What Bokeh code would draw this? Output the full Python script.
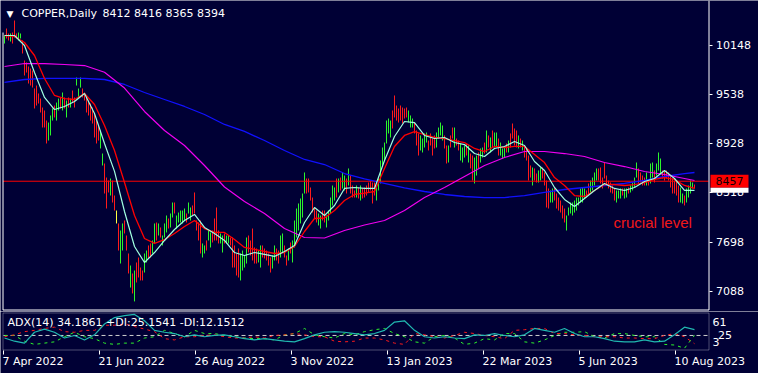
from bokeh.plotting import figure
from bokeh.layouts import column
from bokeh.models import (Range1d, LinearAxis, FixedTicker, Label,
                          ColumnDataSource, BoxAnnotation)
from bokeh.embed import file_html
from bokeh.resources import INLINE

# ---------------- data ----------------
SYMBOL = "COPPER,Daily"
LAST_OHLC = "8412 8416 8365 8394"
ADX_TITLE = "ADX(14) 34.1861 +DI:25.1541 -DI:12.1512"

high = [
    10272, 10359, 10297, 10297, 10309, 10459, 10297, 10309, 10297, 10210,
    9961, 9936, 9886, 9861, 9836, 9612, 9649, 9550, 9487, 9375,
    9338, 9213, 9188, 9276, 9363, 9400, 9437, 9487, 9500, 9562,
    9500, 9462, 9500, 9487, 9587, 9500, 9749, 9612, 9749, 9612,
    9562, 9500, 9462, 9425, 9375, 9301, 9213, 9151, 9089, 8802,
    8678, 8503, 8466, 8491, 8466, 8279, 8092, 7931, 7843, 7931,
    7968, 7781, 7557, 7407, 7308, 7345, 7445, 7507, 7382, 7345,
    7557, 7594, 7657, 7682, 7719, 7931, 7943, 7931, 7881, 7781,
    7931, 8030, 7993, 8055, 8192, 8192, 8030, 8067, 8092, 8092,
    8117, 8055, 8192, 8130, 8155, 8317, 7968, 7943, 7968, 7682,
    7657, 7719, 7843, 7819, 7843, 7993, 8130, 7843, 7806, 7781,
    7806, 7781, 7781, 7756, 7756, 7657, 7557, 7619, 7557, 7594,
    7532, 7756, 7781, 7719, 7868, 7632, 7619, 7594, 7657, 7657,
    7619, 7594, 7557, 7507, 7532, 7657, 7619, 7594, 7781, 7806,
    7657, 7532, 7619, 7694, 7719, 7968, 8117, 8180, 8242, 8304,
    8566, 8491, 8491, 8379, 8254, 8130, 8092, 8055, 8030, 8092,
    8092, 8030, 8092, 8254, 8404, 8379, 8491, 8491, 8503, 8566,
    8528, 8491, 8616, 8528, 8404, 8342, 8404, 8379, 8404, 8367,
    8379, 8404, 8441, 8466, 8441, 8441, 8379, 8491, 8715, 8877,
    8939, 9213, 9238, 9213, 9338, 9525, 9400, 9363, 9400, 9375,
    9363, 9375, 9338, 9276, 9238, 9188, 9089, 9052, 9027, 8989,
    9052, 9064, 8964, 9052, 8989, 9027, 9064, 9126, 9188, 9151,
    9027, 8902, 8902, 9027, 9126, 9126, 8989, 8964, 8927, 8877,
    8902, 8927, 8902, 8802, 8777, 8752, 8777, 8815, 8865, 8877,
    8939, 9089, 9027, 9002, 9089, 9064, 9064, 8989, 8939, 8865,
    8877, 8927, 8964, 9052, 9176, 9114, 9089, 9027, 8989, 8964,
    8902, 8865, 8777, 8653, 8628, 8616, 8553, 8591, 8628, 8628,
    8566, 8466, 8367, 8342, 8367, 8367, 8304, 8254, 8217, 8155,
    8117, 8030, 8130, 8192, 8192, 8217, 8254, 8254, 8367, 8379,
    8367, 8342, 8429, 8466, 8503, 8566, 8616, 8616, 8628, 8503,
    8690, 8528, 8466, 8441, 8404, 8367, 8342, 8342, 8367, 8367,
    8367, 8367, 8379, 8404, 8441, 8503, 8690, 8616, 8566, 8528,
    8503, 8566, 8466, 8678, 8690, 8591, 8678, 8815, 8740, 8591,
    8591, 8591, 8566, 8528, 8491, 8466, 8466, 8404, 8379, 8304,
    8279, 8367, 8404, 8466, 8441, 8416,
]
low = [
    10172, 10235, 10210, 10197, 10172, 10247, 10235, 10210, 10235, 10048,
    9774, 9811, 9674, 9649, 9624, 9363, 9400, 9425, 9313, 9126,
    9126, 8927, 8964, 9027, 9213, 9251, 9213, 9338, 9363, 9338,
    9363, 9251, 9375, 9375, 9437, 9375, 9649, 9500, 9624, 9500,
    9462, 9313, 9276, 9213, 9176, 9002, 8927, 8964, 8865, 8653,
    8304, 8117, 8317, 8279, 8192, 8092, 7931, 7594, 7432, 7594,
    7806, 7594, 7308, 7133, 7059, 6960, 7196, 7258, 7221, 7221,
    7320, 7445, 7495, 7507, 7557, 7682, 7719, 7781, 7756, 7657,
    7756, 7819, 7868, 7881, 8005, 8055, 7868, 7943, 7943, 7931,
    7968, 7943, 8055, 7968, 8030, 8055, 7843, 7719, 7557, 7507,
    7557, 7594, 7719, 7632, 7694, 7719, 7719, 7682, 7682, 7569,
    7682, 7682, 7682, 7657, 7382, 7382, 7283, 7258, 7221, 7345,
    7382, 7432, 7569, 7532, 7470, 7432, 7432, 7445, 7382, 7507,
    7495, 7470, 7407, 7320, 7370, 7470, 7470, 7432, 7507, 7569,
    7507, 7407, 7470, 7557, 7445, 7632, 7756, 7843, 7931, 8005,
    8304, 8304, 8317, 8217, 8067, 7993, 7943, 7906, 7868, 7968,
    7943, 7881, 7968, 8055, 8155, 8217, 8254, 8317, 8342, 8367,
    8342, 8304, 8404, 8304, 8254, 8254, 8254, 8242, 8217, 8242,
    8254, 8279, 8317, 8342, 8180, 8279, 8217, 8342, 8429, 8653,
    8715, 8927, 9052, 9002, 9114, 9251, 9213, 9188, 9213, 9176,
    9238, 9251, 9188, 9126, 9126, 9052, 8902, 8777, 8840, 8815,
    8877, 8939, 8840, 8902, 8777, 8865, 8877, 8989, 9027, 8964,
    8865, 8678, 8690, 8877, 8989, 8877, 8902, 8840, 8715, 8690,
    8752, 8777, 8690, 8616, 8466, 8429, 8528, 8616, 8690, 8752,
    8802, 8815, 8877, 8815, 8877, 8877, 8877, 8777, 8777, 8740,
    8752, 8815, 8815, 8877, 8989, 8902, 8877, 8865, 8877, 8840,
    8752, 8715, 8466, 8503, 8404, 8466, 8441, 8441, 8466, 8491,
    8404, 8130, 8117, 8192, 8192, 8217, 8117, 8092, 8067, 7993,
    7943, 7843, 8030, 8055, 8030, 8067, 8092, 8155, 8192, 8192,
    8242, 8254, 8279, 8317, 8342, 8404, 8466, 8466, 8429, 8367,
    8491, 8404, 8367, 8317, 8304, 8217, 8192, 8242, 8242, 8279,
    8242, 8254, 8304, 8317, 8342, 8379, 8503, 8429, 8441, 8404,
    8404, 8404, 8404, 8429, 8503, 8441, 8528, 8591, 8553, 8491,
    8466, 8491, 8466, 8379, 8304, 8304, 8279, 8192, 8192, 8180,
    8155, 8192, 8254, 8304, 8367, 8365,
]
# U = up bar, D = down bar, N = unchanged
direction = "".join([
    "UDDUDDDUUD", "DDDDDDDDDD", "DDUUUDUUDU", "DUDUDDUUUD", "DDDDDDDDUU",
    "DDDUDDNDUU", "DDDUDUDDDD", "UUDDUUDUDU", "UUDUUDUUUU", "UDUUDDDDDU",
    "UDUUDDDDUU", "DUUDDDDDUU", "UUDDDDDUUD", "DDDDUUDDUU", "DDUDUUUUUU",
    "UDDDDDDUUD", "DUUUUUDUDU", "UDUDDDUDUD", "DDDDDDUUUU", "UUUUDDDDDD",
    "DDUUUDDDUU", "UUDDDDUUUU", "DDUDDUDDUU", "UDUDDUUDUU", "DUDUDUUDUU",
    "UDUDDDDUDU", "DDDDUDDUUD", "DDDUUDDDDD", "DUUUUUUUUU", "UDDUUUUDDD",
    "DDDDDDUUUD", "UUDUUUUDDD", "DUDUUDUUUD", "DDDDDDDDUU", "DUUUUD",
])

# moving averages read every 5 bars (fast ones) / every 10 bars (slow ones)
fast_ma = [
    10272, 10272, 10148, 9811, 9500, 9350, 9388, 9450, 9550, 9301,
    8927, 8580, 8080, 7644, 7445, 7569, 7719, 7856, 7968, 8043,
    7881, 7806, 7719, 7569, 7532, 7569, 7545, 7520, 7582, 7657,
    7943, 8130, 8030, 8155, 8367, 8379, 8367, 8367, 8715, 9014,
    9201, 9188, 9027, 8989, 9002, 8939, 8914, 8803, 8765, 8865,
    8890, 8952, 8902, 8703, 8591, 8379, 8230, 8142, 8242, 8342,
    8429, 8367, 8342, 8379, 8454, 8491, 8591, 8491, 8342, 8342,
]
mid_ma = [
    10272, 10260, 10185, 10023, 9737, 9525, 9487, 9475, 9550, 9413,
    9151, 8840, 8441, 8030, 7744, 7682, 7731, 7806, 7893, 7968,
    7868, 7819, 7819, 7731, 7632, 7607, 7582, 7557, 7569, 7644,
    7831, 7993, 7999, 8092, 8217, 8292, 8310, 8329, 8616, 8890,
    9027, 9076, 9039, 9002, 8989, 8964, 8939, 8865, 8827, 8890,
    8877, 8890, 8890, 8790, 8690, 8503, 8404, 8279, 8267, 8342,
    8416, 8416, 8404, 8416, 8441, 8479, 8503, 8479, 8404, 8367,
]
ma_magenta = [
    9886, 9923, 9923, 9911, 9898, 9814, 9617, 9326, 9089, 8902,
    8653, 8385, 8205, 8055, 7868, 7756, 7750, 7843, 7912, 7968,
    8092, 8254, 8379, 8516, 8653, 8752, 8827, 8827, 8802, 8765,
    8690, 8640, 8578, 8541, 8491, 8466,
]
ma_blue = [
    9687, 9724, 9737, 9737, 9737, 9724, 9662, 9562, 9475, 9388,
    9288, 9164, 9077, 8964, 8840, 8728, 8665, 8553, 8485, 8429,
    8373, 8329, 8292, 8267, 8254, 8254, 8279, 8317, 8354, 8379,
    8404, 8429, 8466, 8516, 8553, 8566,
]
adx = [
    21, 16, 13, 30, 35, 30, 21, 25, 18, 26,
    43, 53, 56, 58, 48, 33, 30, 28, 23, 26,
    23, 25, 26, 23, 20, 18, 20, 18, 16, 15,
    20, 26, 30, 31, 30, 28, 26, 28, 33, 46,
    48, 33, 23, 21, 23, 21, 20, 26, 25, 28,
    25, 23, 26, 36, 33, 30, 36, 28, 23, 23,
    20, 16, 15, 15, 18, 15, 16, 26, 38, 34.19,
]
plus_di = [
    25, 25, 16, 11, 13, 15, 23, 30, 23, 20,
    13, 11, 13, 13, 21, 23, 33, 28, 23, 33,
    28, 28, 25, 23, 21, 20, 20, 18, 26, 28,
    36, 26, 23, 21, 28, 26, 31, 34, 36, 28,
    23, 15, 13, 23, 25, 21, 11, 13, 20, 18,
    28, 28, 15, 13, 18, 25, 30, 30, 31, 23,
    21, 28, 28, 25, 23, 23, 11, 10, 5, 25.15,
]
minus_di = [
    23, 26, 31, 33, 36, 38, 31, 30, 33, 33,
    41, 41, 43, 39, 35, 31, 20, 18, 23, 23,
    25, 26, 23, 21, 21, 23, 21, 25, 26, 28,
    26, 23, 23, 16, 15, 16, 21, 21, 18, 13,
    11, 28, 26, 23, 21, 25, 30, 28, 25, 23,
    20, 33, 34, 36, 36, 28, 28, 26, 25, 23,
    23, 23, 21, 21, 20, 20, 25, 28, 23, 12.15,
]

price_ticks = [7088, 7698, 8318, 8928, 9538, 10148]
level_price = 8457
adx_level = 25
adx_min, adx_max = 3, 61
date_tick_idx = [0, 48, 96, 144, 192, 240, 288, 336]
date_labels = ["7 Apr 2022", "21 Jun 2022", "26 Aug 2022", "3 Nov 2022",
               "13 Jan 2023", "22 Mar 2023", "5 Jun 2023", "10 Aug 2023"]

N = len(high)
assert len(low) == N and len(direction) == N
bar_idx = list(range(N))
fast_idx = list(range(0, N, 5))
slow_idx = list(range(0, N, 10)) + [N - 1]

# ---------------- geometry / style ----------------
W, H_MAIN, H_ADX = 758, 311, 62
X0 = -2.0            # bar index at the left page edge (2 px per bar)
P_TOP, PPP = 10708, 12.455   # price at page top, price per pixel
BG = "#000035"
GREEN = "#2CF52C"
RED = "#FF1A1A"
YELLOW = "#FFFF40"
FONT = "DejaVu Sans"


def bx(px):
    return X0 + px / 2.0


def by(py):
    return P_TOP - py * PPP


x_range = Range1d(X0, X0 + W / 2.0)

# ---------------- main price panel ----------------
p = figure(width=W, height=H_MAIN, x_range=x_range,
           y_range=Range1d(by(H_MAIN), P_TOP),
           output_backend="svg", toolbar_location=None, title=None,
           x_axis_location=None, y_axis_location=None, min_border=0,
           background_fill_color=BG, border_fill_color=BG, outline_line_color=None)
p.grid.grid_line_color = None

yax = LinearAxis(ticker=FixedTicker(ticks=price_ticks), fixed_location=bx(708.5),
                 axis_line_color=None, major_tick_line_color="white",
                 major_tick_out=3, major_tick_in=0, minor_tick_line_color=None,
                 major_label_text_color="white", major_label_text_font=FONT,
                 major_label_text_font_size="11px", major_label_standoff=4)
p.add_layout(yax, "right")

cmap = {"U": GREEN, "D": RED, "N": YELLOW}
bars = ColumnDataSource(dict(x=bar_idx, hi=high, lo=low,
                             color=[cmap[c] for c in direction]))
p.segment(x0="x", y0="lo", x1="x", y1="hi", line_color="color", line_width=1, source=bars)

p.line([bx(2.5), bx(708)], [level_price, level_price], line_color="#FF0000", line_width=1)

p.line(slow_idx, ma_blue, line_color="#1010FF", line_width=1.3)
p.line(slow_idx, ma_magenta, line_color="#F000F0", line_width=1.2)
p.line(fast_idx, mid_ma, line_color="#FF0000", line_width=1.3)
p.line(fast_idx, fast_ma, line_color="#A0FFE0", line_width=1.2)

# frame edges (left edge is covered by the header at the top, no top edge)
p.multi_line(xs=[[bx(2.5), bx(2.5)], [bx(2.5), bx(708.5)], [bx(708.5), bx(708.5)]],
             ys=[[by(32), by(309.5)], [by(309.5), by(309.5)], [by(0), by(309.5)]],
             line_color="white", line_width=1)

p.add_layout(Label(x=6, y=H_MAIN - 13, x_units="screen", y_units="screen", text="\u25BC",
                   text_color="white", text_font=FONT, text_font_size="9px",
                   text_baseline="middle"))
p.add_layout(Label(x=21, y=H_MAIN - 13, x_units="screen", y_units="screen", text=SYMBOL,
                   text_color="white", text_font=FONT, text_font_size="11px",
                   text_baseline="middle"))
p.add_layout(Label(x=102, y=H_MAIN - 13, x_units="screen", y_units="screen", text=LAST_OHLC,
                   text_color="white", text_font=FONT, text_font_size="11px",
                   text_baseline="middle"))
p.add_layout(Label(x=bx(613), y=by(222), text="crucial level", text_color="#F01818",
                   text_font="Liberation Sans", text_font_size="15px",
                   text_baseline="alphabetic"))

# price marker on the right scale
p.quad(left=bx(710), right=bx(748), top=level_price + 6.5 * PPP,
       bottom=level_price - 6.5 * PPP, fill_color="#FF0000", line_color=None, level="overlay")
p.quad(left=bx(710), right=bx(748), top=level_price - 6.5 * PPP,
       bottom=level_price - 11.5 * PPP, fill_color="white", line_color=None, level="overlay")
p.add_layout(Label(x=715, y=level_price, x_units="screen", text=str(level_price),
                   text_color="#100000", text_font=FONT, text_font_size="11px",
                   text_baseline="middle", level="overlay"))

# ---------------- ADX panel ----------------
ppu = 37.0 / (adx_max - adx_min)          # pixels per ADX unit (panel rows 1..38)
q_top = adx_max + 1 / ppu
q_bot = adx_min - (H_ADX - 38) / ppu


def ay(py):
    return adx_max - (py - 1) / ppu


q = figure(width=W, height=H_ADX, x_range=x_range, y_range=Range1d(q_bot, q_top),
           output_backend="svg", toolbar_location=None, title=None,
           x_axis_location=None, y_axis_location=None, min_border=0,
           background_fill_color=BG, border_fill_color=BG, outline_line_color=None)
q.grid.grid_line_color = None

q.line([bx(3), bx(708)], [adx_level, adx_level], line_color="#D0D0D0",
       line_width=1, line_dash="4 3")
q.line(fast_idx, plus_di, line_color="#2CF52C", line_width=1, line_dash="3 4")
q.line(fast_idx, minus_di, line_color="#FF1A1A", line_width=1, line_dash="3 4")
q.line(fast_idx, adx, line_color="#20B8B0", line_width=1.2)

q.add_layout(BoxAnnotation(left=bx(2.5), right=bx(708.5), top=ay(1.5), bottom=ay(38.5),
                           fill_color=None, line_color="white", line_width=1))

rax = LinearAxis(ticker=FixedTicker(ticks=[adx_level]), fixed_location=bx(708.5),
                 axis_line_color=None, major_tick_line_color=None, minor_tick_line_color=None,
                 major_label_text_color="white", major_label_text_font=FONT,
                 major_label_text_font_size="11px", major_label_standoff=3)
q.add_layout(rax, "right")
q.add_layout(Label(x=712, y=H_ADX - 10.5, x_units="screen", y_units="screen",
                   text=str(adx_max), text_color="white", text_font=FONT,
                   text_font_size="11px", text_baseline="middle"))
q.add_layout(Label(x=712, y=H_ADX - 30.5, x_units="screen", y_units="screen",
                   text=str(adx_min), text_color="white", text_font=FONT,
                   text_font_size="11px", text_baseline="middle"))
q.add_layout(Label(x=7, y=H_ADX - 11, x_units="screen", y_units="screen", text=ADX_TITLE,
                   text_color="white", text_font=FONT, text_font_size="11px",
                   text_baseline="middle"))

tick_pos = [t - 0.5 for t in date_tick_idx]
xax = LinearAxis(ticker=FixedTicker(ticks=tick_pos), fixed_location=ay(38.5),
                 axis_line_color=None, major_tick_line_color="white",
                 major_tick_out=4, major_tick_in=0, minor_tick_line_color=None,
                 major_label_overrides={t: "" for t in tick_pos})
q.add_layout(xax, "below")
for t, lab in zip(tick_pos, date_labels):
    q.add_layout(Label(x=t, y=12, y_units="screen", text=lab, x_offset=-1,
                       text_color="white", text_font=FONT, text_font_size="11px",
                       text_baseline="middle", text_align="left"))

layout = column(p, q, spacing=0)
open("out.html", "w").write(file_html(layout, INLINE))
